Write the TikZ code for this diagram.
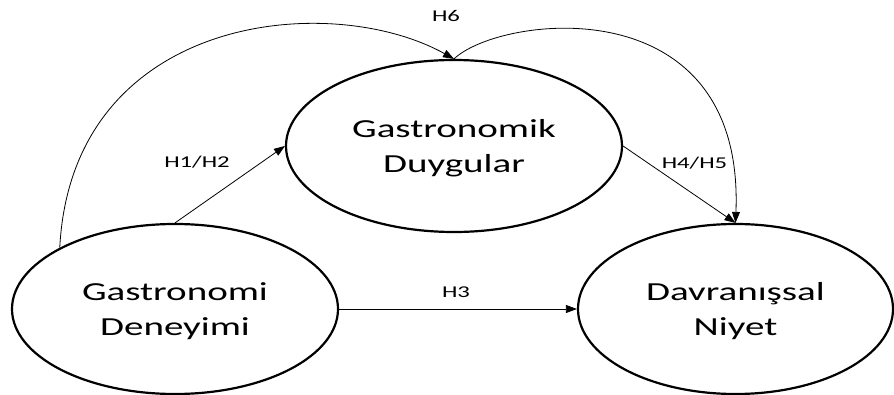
\documentclass[tikz,border=0pt]{standalone}
\usepackage{fontspec}
\setmainfont[FakeStretch=1.5]{Carlito}
\usetikzlibrary{shapes.geometric,arrows.meta}
\begin{document}
\begin{tikzpicture}[x=1pt,y=-1pt,
  construct/.style={ellipse, draw, line width=2.2pt, inner sep=0pt, align=center,
    text depth=0pt, font=\fontsize{26}{35}\selectfont},
  hyparrow/.style={draw, line width=0.8pt, -{Triangle[length=11pt,width=8pt]}},
  hyp/.style={font=\fontsize{16.5}{20}\selectfont, inner sep=0pt}]
\useasboundingbox (0,0) rectangle (894,395);

% constructs
\node[construct, minimum width=326pt, minimum height=170pt] (L) at (175,309) {Gastronomi\\Deneyimi};
\node[construct, minimum width=336pt, minimum height=172pt] (T) at (454,146) {Gastronomik\\Duygular};
\node[construct, minimum width=315pt, minimum height=170pt] (R) at (735.5,309) {Davranışsal\\Niyet};

% direct paths
\draw[hyparrow] (L.north) -- (T.west);
\draw[hyparrow] (L.east) -- (R.west);
\draw[hyparrow] (T.east) -- (R.north);

% mediated path over the top
\coordinate (tip) at (T.north);
\draw[hyparrow] (L.152) .. controls (72,14) and (330,-10) .. (tip);
\draw[hyparrow] (tip) .. controls (500,15) and (745,-15) .. (R.north);

% hypothesis labels
\node[hyp] (h12) at (197,162) {H1/H2};
\node[hyp] (h3) at (456,292) {H3};
\node[hyp] (h45) at (694.5,163.5) {H4/H5};
\node[hyp] (h6) at (446,15.5) {H6};
\end{tikzpicture}
\end{document}
